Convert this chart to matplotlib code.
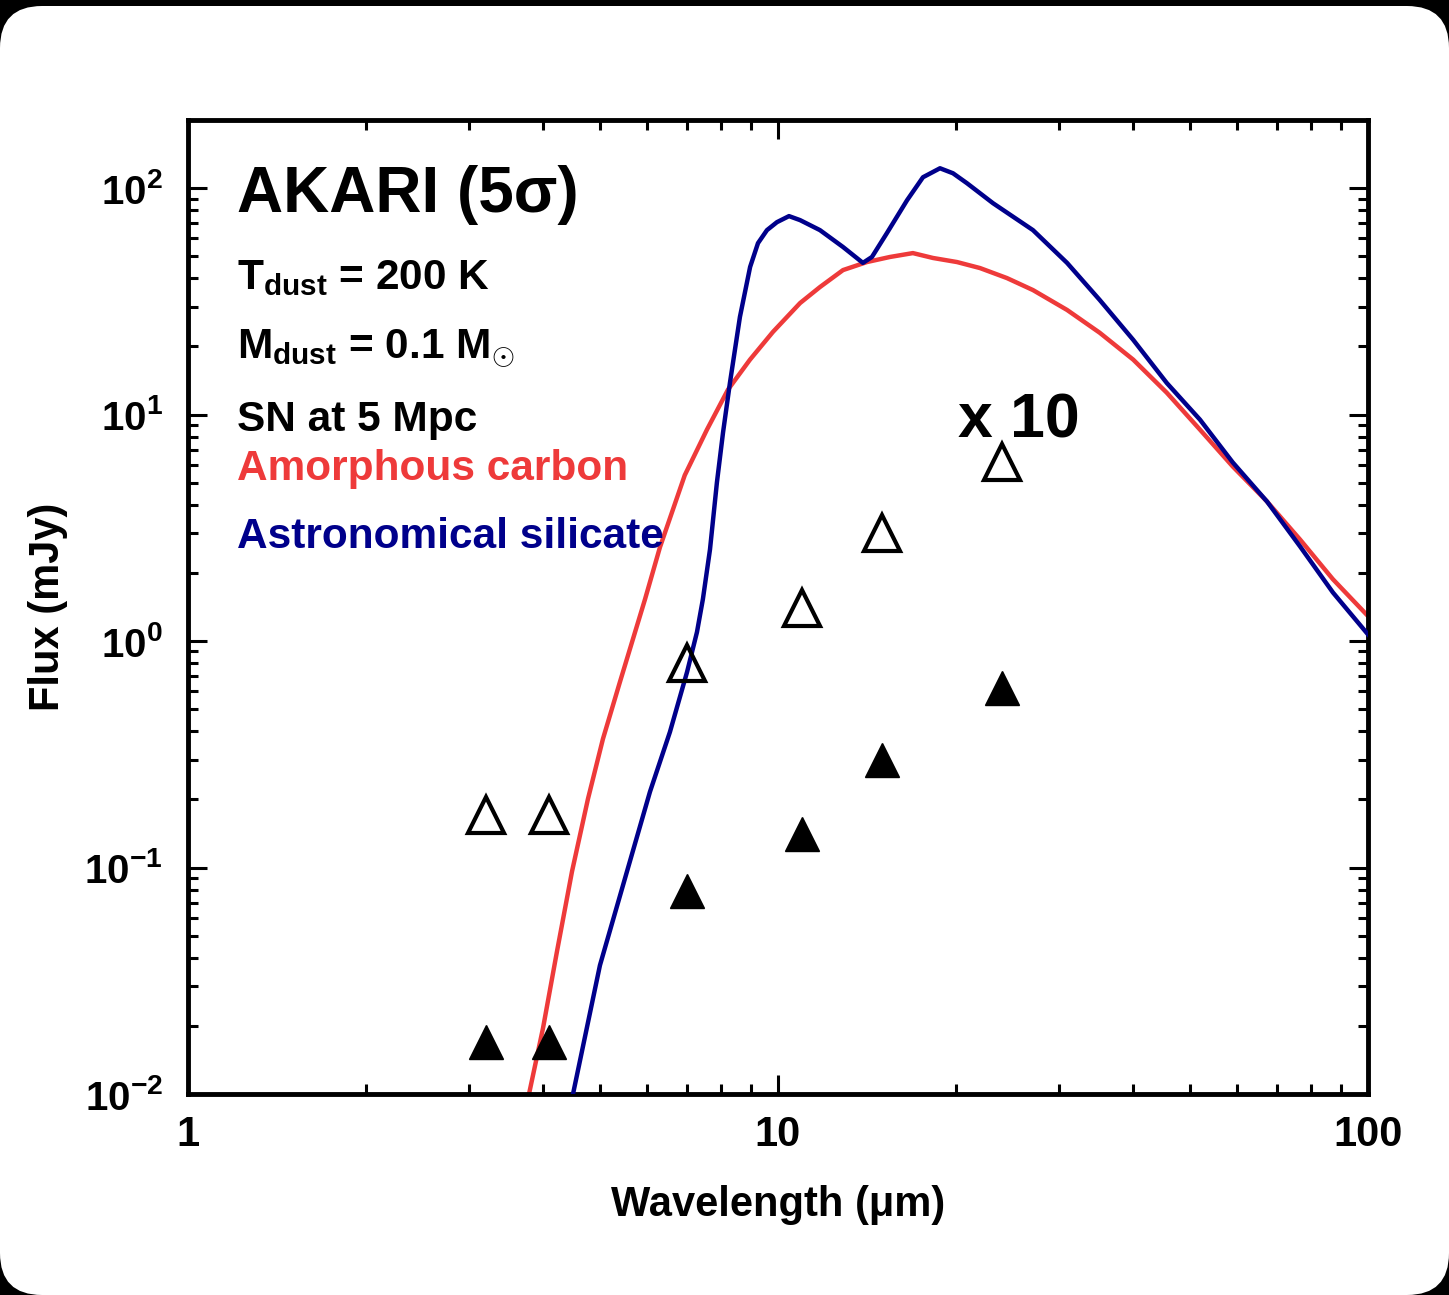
import numpy as np
import matplotlib
matplotlib.use('Agg')
import matplotlib.pyplot as plt
from matplotlib.patches import FancyBboxPatch
from matplotlib.ticker import FixedLocator, FixedFormatter, LogLocator, NullFormatter

plt.rcParams['font.family'] = ['Liberation Sans', 'DejaVu Sans']
plt.rcParams['font.weight'] = 'bold'
plt.rcParams['mathtext.fontset'] = 'custom'
plt.rcParams['mathtext.rm'] = 'Liberation Sans:bold'
plt.rcParams['mathtext.bf'] = 'Liberation Sans:bold'
plt.rcParams['mathtext.it'] = 'Liberation Sans:bold'

# AKARI bands (um) and 5 sigma sensitivities (mJy)
band_wl = [3.2, 4.1, 7.0, 11.0, 15.0, 24.0]
sens_5sig = [0.017, 0.017, 0.079, 0.14, 0.30, 0.62]
sens_x10 = [0.17, 0.17, 0.80, 1.40, 3.0, 6.2]

# amorphous carbon model, T=200 K, M=0.1 Msun, 5 Mpc
carbon_wl = [3.785, 3.997, 4.222, 4.476, 4.764, 5.051, 5.397, 5.952, 6.31, 6.95,
             7.58, 8.228, 8.966, 9.806, 10.9, 11.78, 12.89, 14.15, 15.48, 16.93,
             18.31, 20.11, 22.0, 24.44, 27.05, 30.9, 35.1, 40.0, 45.6, 51.9,
             59.0, 67.4, 76.7, 87.2, 100.0]
carbon_flux = [0.0100, 0.0195, 0.0427, 0.096, 0.201, 0.37, 0.66, 1.53, 2.6, 5.4,
               8.59, 12.9, 17.5, 23.2, 31.1, 36.6, 43.5, 47.2, 49.7, 51.7,
               49.2, 47.2, 44.4, 40.1, 35.5, 29.0, 23.0, 17.5, 12.5, 8.59,
               5.9, 4.14, 2.81, 1.876, 1.29]

# astronomical silicate model
sil_wl = [4.494, 4.992, 5.547, 6.068, 6.56, 7.013, 7.29, 7.46, 7.67, 7.88,
          8.07, 8.29, 8.62, 8.97, 9.25, 9.58, 9.96, 10.44, 10.9, 11.78,
          12.89, 13.93, 14.43, 15.3, 16.55, 17.61, 18.82, 19.8, 20.91, 23.14,
          27.05, 30.9, 35.1, 40.0, 45.6, 51.9, 59.0, 67.4, 76.7, 87.2, 100.0]
sil_flux = [0.0100, 0.037, 0.096, 0.216, 0.397, 0.73, 1.096, 1.531, 2.54, 5.02,
            8.33, 13.8, 27.0, 44.9, 57.2, 65.3, 70.8, 75.3, 72.3, 65.3,
            55.0, 46.8, 49.7, 63.4, 88.5, 111.8, 122.5, 116.4, 105.2, 85.9,
            65.3, 46.8, 32.1, 21.4, 13.8, 9.51, 6.15, 4.14, 2.62, 1.64, 1.07]

fig = plt.figure(figsize=(14.49, 12.95), dpi=100)
fig.patch.set_facecolor('black')
card = FancyBboxPatch((0.0, 0.0), 14.49, 12.89,
                      boxstyle='round,pad=0,rounding_size=0.42',
                      transform=fig.dpi_scale_trans, facecolor='white',
                      edgecolor='none', zorder=-10)
fig.patches.append(card)

ax = fig.add_axes([0.1297, 0.1552, 0.8144, 0.7521])
ax.set_zorder(1)
ax.set_xscale('log')
ax.set_yscale('log')
ax.set_xlim(1, 100)
ax.set_ylim(0.01, 200)

ax.plot(carbon_wl, carbon_flux, color='#ee3a3a', lw=3.2, zorder=2)
ax.plot(sil_wl, sil_flux, color='#00008b', lw=3.2, zorder=3)
ax.plot(band_wl, sens_5sig, ls='none', marker='^', ms=25, mfc='black', mec='black', zorder=4)
ax.plot(band_wl, sens_x10, ls='none', marker='^', ms=26, mfc='none', mec='black', mew=3, zorder=4)

# axes styling
for s in ax.spines.values():
    s.set_linewidth(3.5)
ax.tick_params(which='both', direction='in', top=True, right=True)
ax.tick_params(which='major', length=14, width=2.2)
ax.tick_params(which='minor', length=7, width=2.2)
ax.tick_params(axis='x', which='major', pad=15, labelsize=30)
ax.tick_params(axis='y', which='major', pad=18, labelsize=29)

xt = [1, 10, 100]
ax.xaxis.set_major_locator(FixedLocator(xt))
ax.xaxis.set_major_formatter(FixedFormatter(['1', '10', '100']))
yt = [0.01, 0.1, 1, 10, 100]
ax.yaxis.set_major_locator(FixedLocator(yt))
ax.yaxis.set_major_formatter(FixedFormatter([r'$10^{-2}$', r'$10^{-1}$', r'$10^{0}$',
                                             r'$10^{1}$', r'$10^{2}$']))
ax.xaxis.set_minor_locator(LogLocator(base=10, subs=np.arange(2, 10)))
ax.yaxis.set_minor_locator(LogLocator(base=10, subs=np.arange(2, 10)))
ax.xaxis.set_minor_formatter(NullFormatter())
ax.yaxis.set_minor_formatter(NullFormatter())

ax.set_xlabel('Wavelength (μm)', fontsize=30, fontweight='bold', labelpad=22)
ax.set_ylabel('Flux (mJy)', fontsize=30, fontweight='bold', labelpad=12)

# annotations
ax.text(0.0415, 0.906, 'AKARI (5σ)', transform=ax.transAxes, fontsize=46, fontweight='bold', va='baseline')
ax.text(0.0415, 0.826, r'T$_{\rm dust}$ = 200 K', transform=ax.transAxes, fontsize=30.5, fontweight='bold', va='baseline')
ax.text(0.0415, 0.756, r'M$_{\rm dust}$ = 0.1 M$_{\odot}$', transform=ax.transAxes, fontsize=30.5, fontweight='bold', va='baseline')
ax.text(0.0415, 0.681, 'SN at 5 Mpc', transform=ax.transAxes, fontsize=30.5, fontweight='bold', va='baseline')
ax.text(0.0415, 0.630, 'Amorphous carbon', transform=ax.transAxes, fontsize=30.5, fontweight='bold',
        color='#ee3a3a', va='baseline')
ax.text(0.0415, 0.561, 'Astronomical silicate', transform=ax.transAxes, fontsize=30.5, fontweight='bold',
        color='#00008b', va='baseline')
ax.text(0.6525, 0.674, 'x 10', transform=ax.transAxes, fontsize=45, fontweight='bold', va='baseline')

fig.savefig('out.png', dpi=100, facecolor=fig.get_facecolor())
